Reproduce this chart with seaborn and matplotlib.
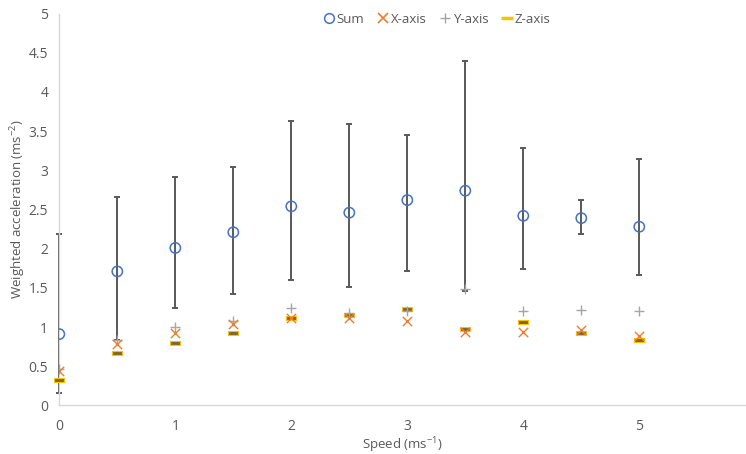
import numpy as np
import pandas as pd
import matplotlib.pyplot as plt
from matplotlib.lines import Line2D
import seaborn as sns

# Values
speed = [0, 0.5, 1, 1.5, 2, 2.5, 3, 3.5, 4, 4.5, 5]
sum_acc = [0.91, 1.71, 2.01, 2.21, 2.54, 2.46, 2.62, 2.74, 2.42, 2.39, 2.28]
sum_low = [0.16, 0.84, 1.24, 1.42, 1.60, 1.51, 1.72, 1.46, 1.74, 2.19, 1.66]
sum_high = [2.19, 2.66, 2.92, 3.04, 3.63, 3.59, 3.45, 4.39, 3.28, 2.62, 3.15]
x_axis = [0.44, 0.79, 0.92, 1.04, 1.12, 1.12, 1.08, 0.94, 0.94, 0.96, 0.89]
y_axis = [0.46, 0.84, 1.00, 1.08, 1.24, 1.18, 1.20, 1.49, 1.20, 1.22, 1.20]
z_axis = [0.33, 0.67, 0.80, 0.93, 1.12, 1.15, 1.23, 0.98, 1.07, 0.92, 0.84]

df = pd.DataFrame({'speed': speed, 'sum': sum_acc, 'low': sum_low, 'high': sum_high,
                   'x': x_axis, 'y': y_axis, 'z': z_axis})

sns.set_theme(style="white")
plt.rcParams['font.family'] = ['Open Sans', 'DejaVu Sans']
plt.rcParams['mathtext.default'] = 'regular'

text_col = '#595959'
blue, orange, grey, gold = '#4472C4', '#ED7D31', '#A5A5A5', '#FFC000'
dash = [(-1, -0.3), (1, -0.3), (1, 0.3), (-1, 0.3), (-1, -0.3)]

fig = plt.figure(figsize=(7.46, 4.54), dpi=100)
ax = fig.add_axes([0.0795, 0.107, 0.9205, 0.863])

yerr = [df['sum'] - df['low'], df['high'] - df['sum']]
ax.errorbar(df['speed'], df['sum'], yerr=yerr, fmt='none', ecolor=text_col,
            elinewidth=1.4, capsize=2, capthick=1.4, zorder=2, clip_on=False)

sns.scatterplot(data=df, x='speed', y='z', marker=dash, s=60, color='#7A6A2A',
                edgecolor=gold, linewidth=0.8, ax=ax, zorder=3, clip_on=False)
sns.scatterplot(data=df, x='speed', y='y', marker='+', s=55, color=grey,
                linewidth=1.0, ax=ax, zorder=3)
sns.scatterplot(data=df, x='speed', y='x', marker='x', s=45, color=orange,
                linewidth=1.0, ax=ax, zorder=4)
sns.scatterplot(data=df, x='speed', y='sum', marker='o', s=55, facecolor='none',
                edgecolor=blue, linewidth=1.1, ax=ax, zorder=5)

ax.set_xlim(0, 5.92)
ax.set_ylim(0, 5)
ax.set_xticks([0, 1, 2, 3, 4, 5])
ax.set_yticks(np.arange(0, 5.01, 0.5))
ax.set_yticklabels(['0', '0.5', '1', '1.5', '2', '2.5', '3', '3.5', '4', '4.5', '5'])
ax.tick_params(axis='both', colors='#D9D9D9', labelcolor=text_col, labelsize=10,
               direction='in', length=4, width=1)
ax.tick_params(axis='x', pad=10)
ax.tick_params(axis='y', pad=8)
for side in ['top', 'right']:
    ax.spines[side].set_visible(False)
for side in ['left', 'bottom']:
    ax.spines[side].set_color('#D9D9D9')
    ax.spines[side].set_linewidth(1)

ax.set_xlabel('Speed (ms$^{-1}$)', color=text_col, fontsize=9.5)
ax.set_ylabel('Weighted acceleration (ms$^{-2}$)', color=text_col, fontsize=9.5)
ax.xaxis.set_label_coords(0.5, -0.076)
ax.yaxis.set_label_coords(-0.046, 0.5)

handles = [
    Line2D([], [], ls='none', marker='o', mfc='none', mec=blue, ms=7, mew=1.1),
    Line2D([], [], ls='none', marker='x', color=orange, ms=7, mew=1.2),
    Line2D([], [], ls='none', marker='+', color=grey, ms=7, mew=1.0),
    Line2D([], [], ls='none', marker='_', color=gold, ms=8, mew=2.5),
]
fig.legend(handles, ['Sum', 'X-axis', 'Y-axis', 'Z-axis'], loc='center',
           bbox_to_anchor=(0.585, 0.957), ncol=4, frameon=False, fontsize=9.5,
           handletextpad=0.1, columnspacing=0.9, handlelength=1.0,
           labelcolor=text_col)

plt.savefig('out.png', dpi=100)
